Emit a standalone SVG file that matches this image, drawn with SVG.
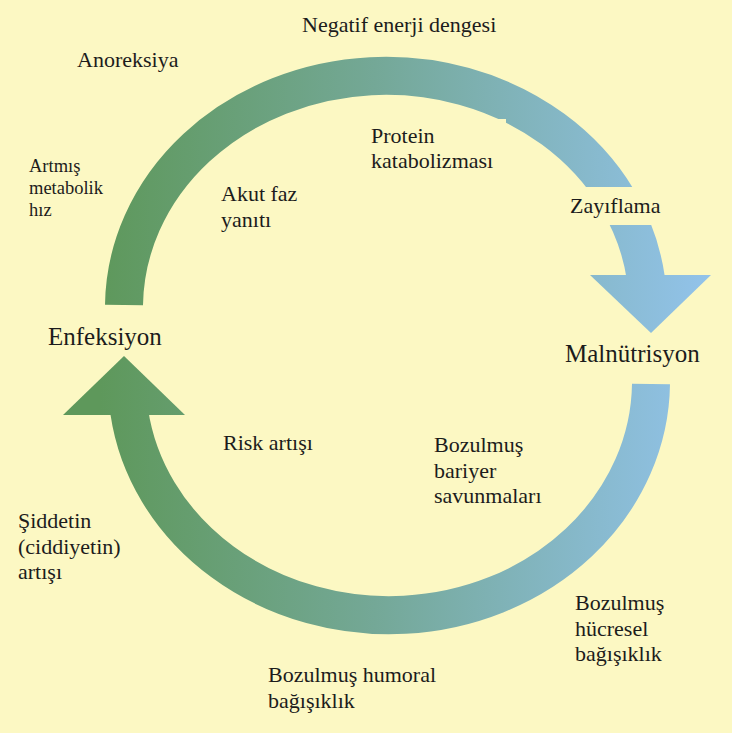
<svg xmlns="http://www.w3.org/2000/svg" width="732" height="733" viewBox="0 0 732 733">
<defs>
<linearGradient id="g" gradientUnits="userSpaceOnUse" x1="100" y1="0" x2="712" y2="0">
<stop offset="0" stop-color="#5E985B"/>
<stop offset="0.45" stop-color="#74A897"/>
<stop offset="1" stop-color="#92C3EB"/>
</linearGradient>
<style>
text{font-family:'Liberation Serif','Times New Roman',serif;font-size:22px;fill:#1c1c1c}
.s{font-size:18.5px}
.b{font-size:25px}
.bg{fill:#FCF8C3}
.arc{fill:none;stroke:url(#g);stroke-width:38}
.head{fill:url(#g)}
</style>
</defs>
<rect width="732" height="733" fill="#FCF8C3"/>
<g id="connectors">
<path class="arc" d="M124 305 A262 232 0 0 1 645.8 278"/>
<polygon class="head" points="590,275 711,275 651,333"/>
<path class="arc" d="M651 384 A262 234 0 0 1 129.3 412"/>
<polygon class="head" points="63,415 185,415 124,356"/>
</g>
<g id="negatif"><text x="302" y="32">Negatif enerji dengesi</text></g>
<g id="anoreksiya"><text x="77" y="67">Anoreksiya</text></g>
<g id="artmis"><text class="s" x="29" y="172">Artmış</text><text class="s" x="29" y="194">metabolik</text><text class="s" x="29" y="216">hız</text></g>
<g id="akut"><text x="221" y="201">Akut faz</text><text x="221" y="227">yanıtı</text></g>
<g id="protein"><rect class="bg" x="365" y="119" width="141" height="58"/><text x="371" y="143">Protein</text><text x="371" y="168">katabolizması</text></g>
<g id="zayiflama"><rect class="bg" x="560" y="187" width="110" height="38"/><text x="570" y="213">Zayıflama</text></g>
<g id="enfeksiyon"><text class="b" x="48" y="345">Enfeksiyon</text></g>
<g id="malnutrisyon"><text class="b" x="565" y="362">Malnütrisyon</text></g>
<g id="risk"><text x="223" y="450">Risk artışı</text></g>
<g id="bariyer"><text x="434" y="452">Bozulmuş</text><text x="434" y="478">bariyer</text><text x="434" y="503">savunmaları</text></g>
<g id="siddet"><text x="18" y="528">Şiddetin</text><text x="18" y="554">(ciddiyetin)</text><text x="18" y="579">artışı</text></g>
<g id="humoral"><text x="268" y="682">Bozulmuş humoral</text><text x="268" y="708">bağışıklık</text></g>
<g id="hucresel"><text x="575" y="610">Bozulmuş</text><text x="575" y="636">hücresel</text><text x="575" y="661">bağışıklık</text></g>
</svg>
